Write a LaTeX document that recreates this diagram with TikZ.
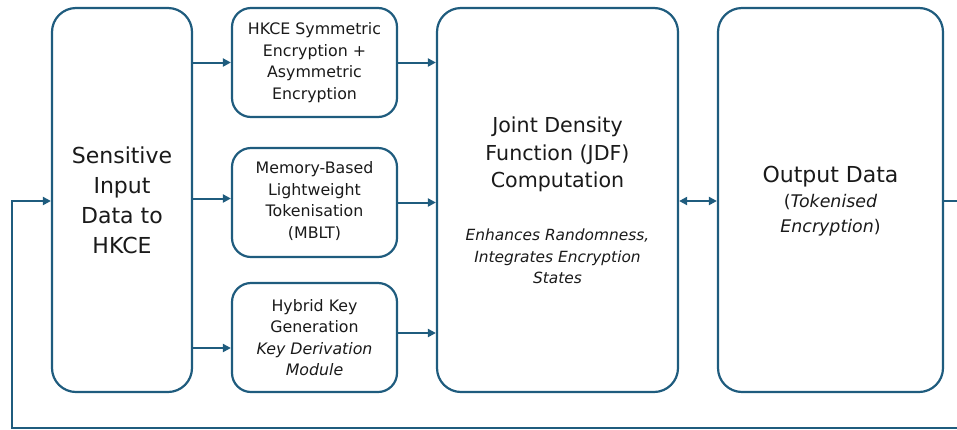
\documentclass[tikz,border=0pt]{standalone}
\usepackage{fontspec}
\setmainfont{DejaVu Sans}
\usetikzlibrary{arrows.meta}
\definecolor{flowblue}{RGB}{31,92,126}
\definecolor{inktext}{RGB}{26,26,26}
\tikzset{
  stage/.style={draw=flowblue, line width=2.2pt, rounded corners=24pt, fill=white, inner sep=0pt},
  module/.style={draw=flowblue, line width=2.2pt, rounded corners=19pt, fill=white, inner sep=0pt,
    minimum width=165pt, minimum height=109pt},
  label/.style={align=center, text=inktext, inner sep=0pt},
  flow/.style={draw=flowblue, line width=2pt, -{Triangle[length=8pt,width=8pt]}},
  flowboth/.style={draw=flowblue, line width=2pt,
    {Triangle[length=8pt,width=8pt]}-{Triangle[length=8pt,width=8pt]}},
}
\begin{document}
\begin{tikzpicture}[x=1pt, y=-1pt]
\useasboundingbox (0,0) rectangle (957,429);
\clip (0,0) rectangle (957,429);

% main stages
\node[stage, minimum width=140pt, minimum height=384pt] (sens) at (122,200) {};
\node[stage, minimum width=241pt, minimum height=384pt] (jdf) at (557.5,200) {};
\node[stage, minimum width=225pt, minimum height=384pt] (out) at (830.5,200) {};

% processing modules
\node[module] (enc) at (314.5,62.5) {};
\node[module] (mblt) at (314.5,202.5) {};
\node[module] (keygen) at (314.5,337.5) {};

% texts
\node[label, font=\fontsize{22}{30}\selectfont] (sensT) at (sens.center)
  {Sensitive\\Input\\Data to\\HKCE};
\node[label, font=\fontsize{15.8}{21.5}\selectfont] (encT) at (enc.center)
  {HKCE Symmetric\\Encryption +\\Asymmetric\\Encryption};
\node[label, font=\fontsize{15.8}{21.5}\selectfont] (mbltT) at (314.5,201)
  {Memory-Based\\Lightweight\\Tokenisation\\(MBLT)};
\node[label, font=\fontsize{15.8}{21.5}\selectfont] (keygenT) at (keygen.center)
  {Hybrid Key\\Generation\\\textit{Key Derivation}\\\textit{Module}};
\node[label, font=\fontsize{20.6}{27.5}\selectfont] (jdfT) at (557.5,154.5)
  {Joint Density\\Function (JDF)\\Computation};
\node[label, font=\fontsize{15.4}{21.5}\selectfont\itshape] (jdfS) at (557.5,256.5)
  {Enhances Randomness,\\Integrates Encryption\\States};
\node[label, font=\fontsize{22}{30}\selectfont] (outT) at (830.5,177) {Output Data};
\node[label, font=\fontsize{17.4}{25}\selectfont] (outS) at (830.5,215.5)
  {(\textit{Tokenised}\\\textit{Encryption})};

% attachment points of the connectors
\coordinate (mbltIn) at ([yshift=4pt]mblt.west);
\coordinate (keyIn) at ([yshift=-10.5pt]keygen.west);
\coordinate (keyOut) at ([yshift=4.5pt]keygen.east);

% connectors into the modules
\draw[flow] (sens.east |- enc.west) -- (enc.west);
\draw[flow] (sens.east |- mbltIn) -- (mbltIn);
\draw[flow] (sens.east |- keyIn) -- (keyIn);

% connectors into the JDF stage
\draw[flow] (enc.east) -- (jdf.west |- enc.east);
\draw[flow] (mblt.east) -- (jdf.west |- mblt.east);
\draw[flow] (keyOut) -- (jdf.west |- keyOut);

% JDF <-> output
\draw[flowboth] ([yshift=-1pt]jdf.east) -- ([yshift=-1pt]out.west);

% feedback loop back to the input
\coordinate (loopR) at (975,428);
\coordinate (loopL) at (12,428);
\draw[flow] ([yshift=-1pt]out.east) -| (loopR) -- (loopL) |- ([yshift=-1pt]sens.west);
\end{tikzpicture}
\end{document}
